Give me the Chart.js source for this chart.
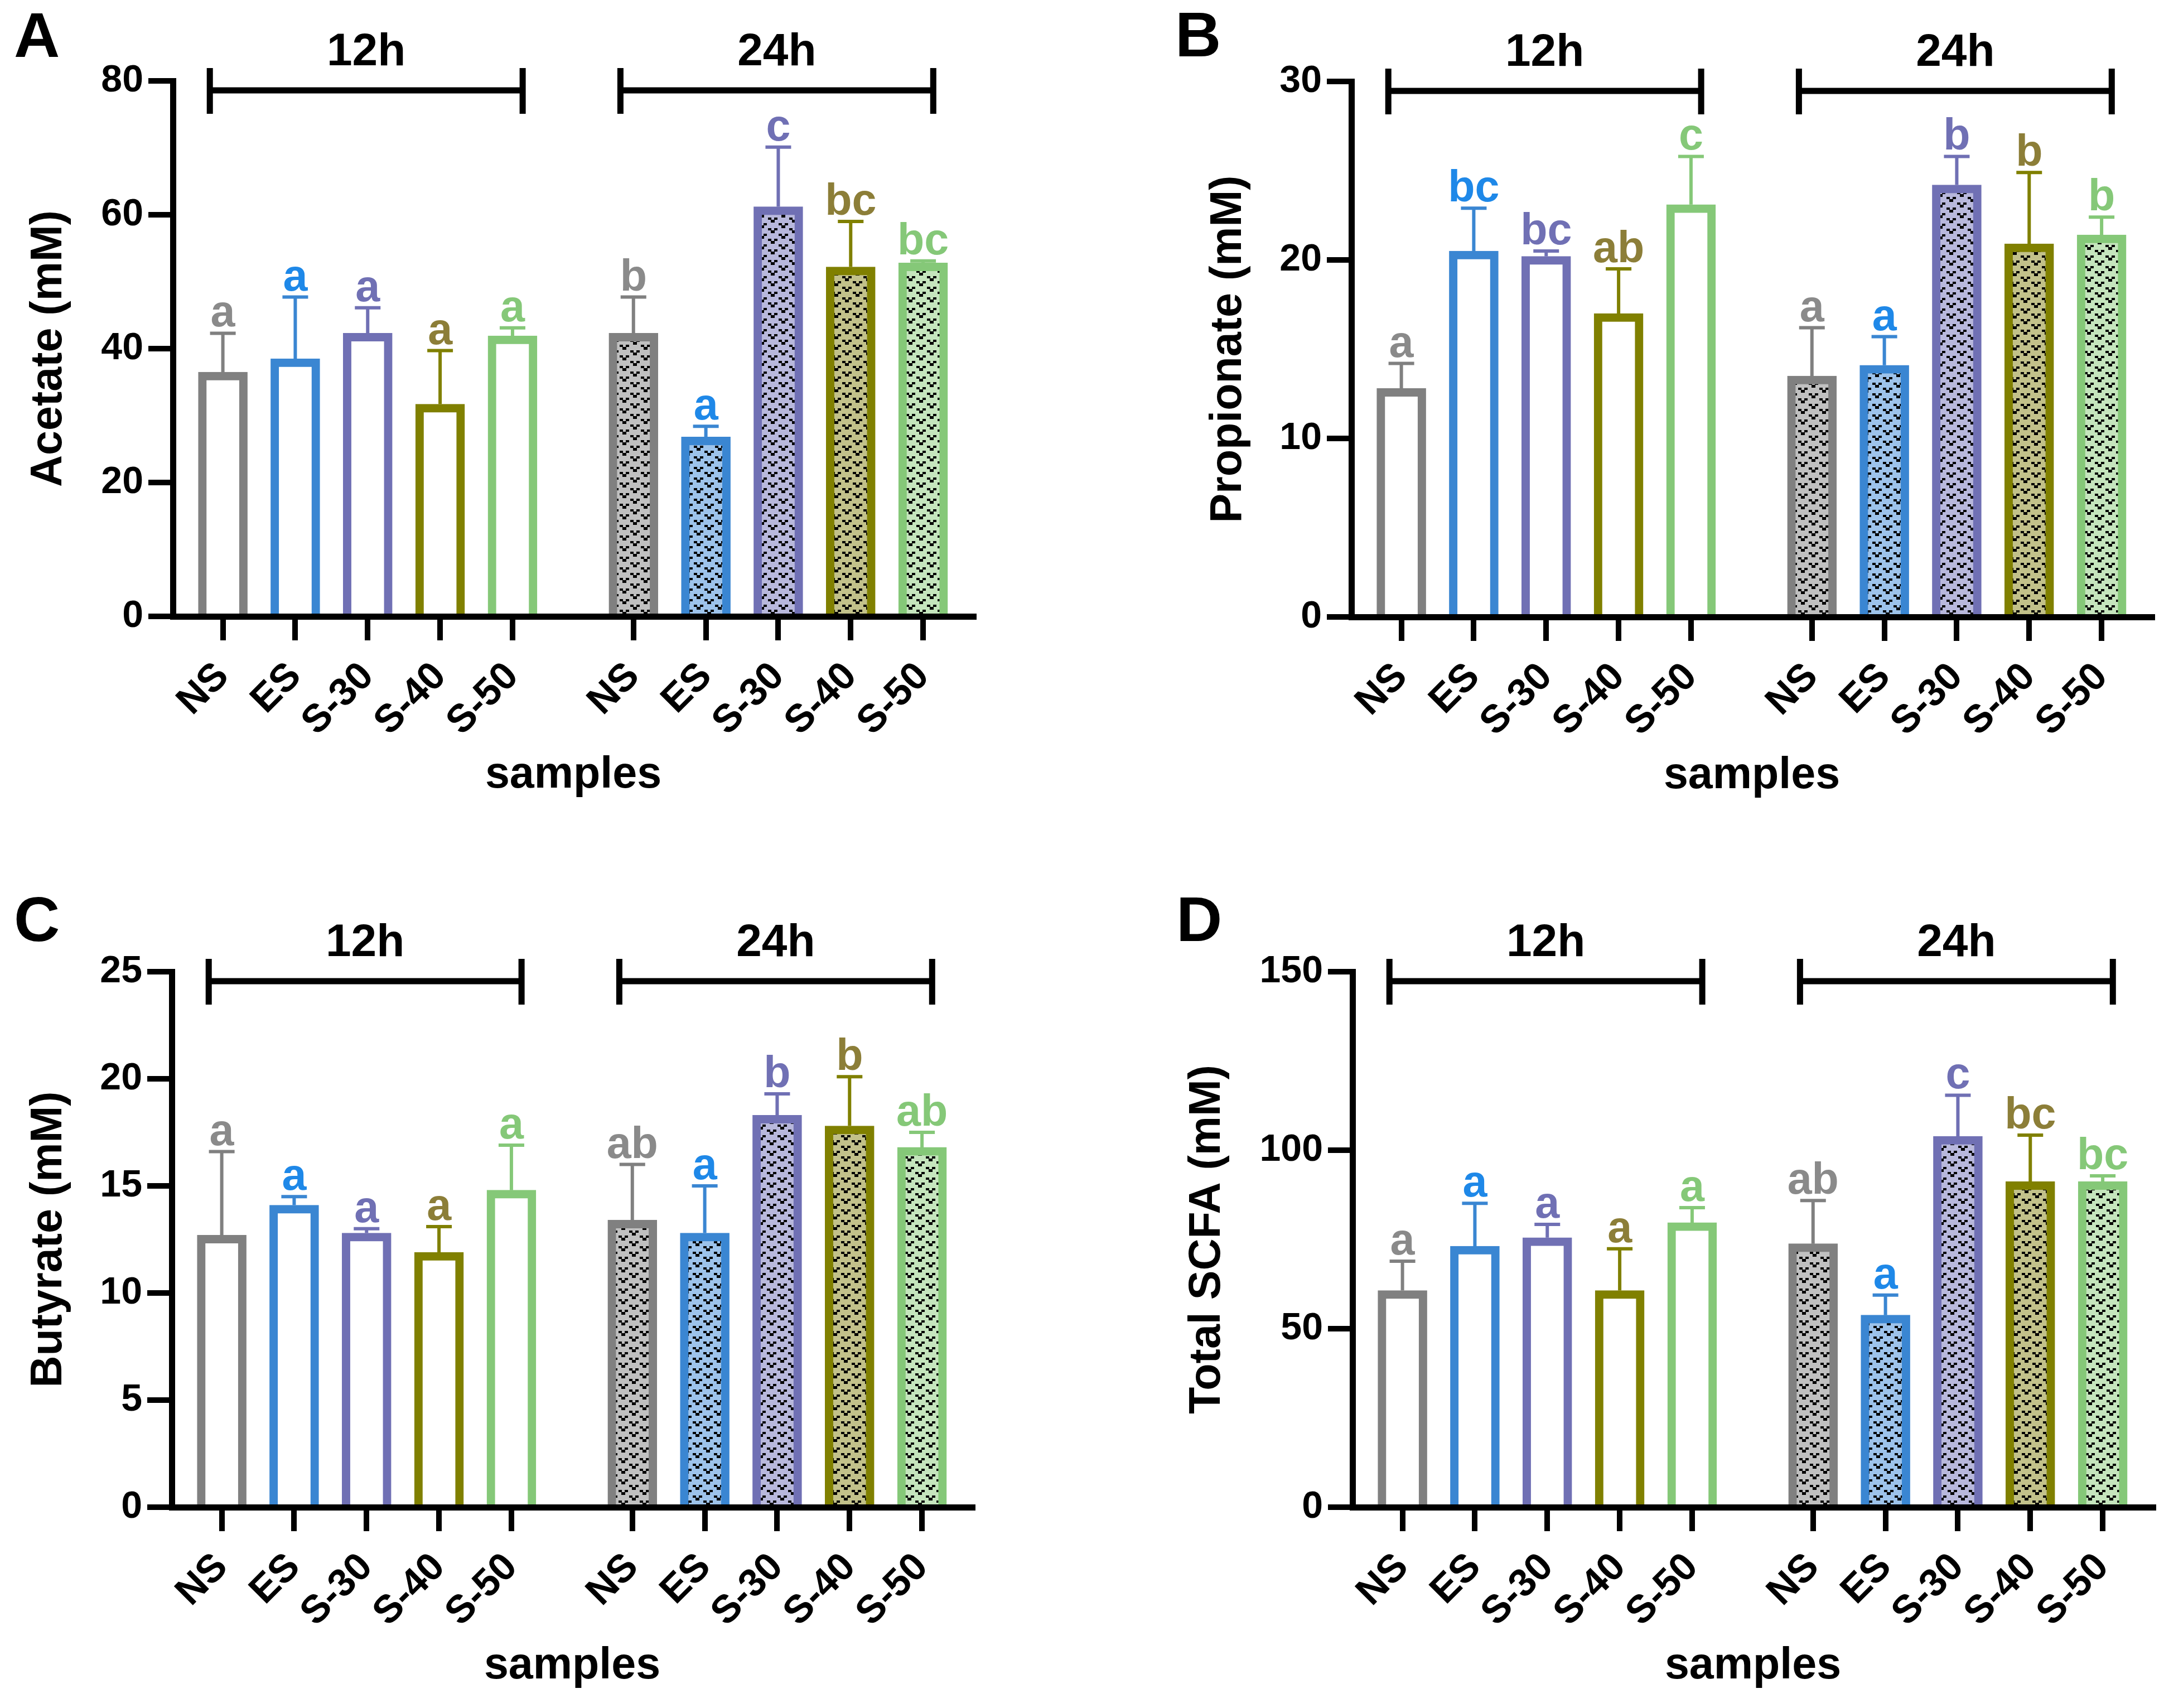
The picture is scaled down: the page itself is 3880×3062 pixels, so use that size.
<!DOCTYPE html>
<html>
<head>
<meta charset="utf-8">
<title>SCFA</title>
<script src="https://cdn.jsdelivr.net/npm/chart.js@4.4.1/dist/chart.umd.min.js"></script>
<style>
  html, body { margin: 0; padding: 0; background: #fff; width: 3880px; height: 3062px; overflow: hidden; position: relative; }
  canvas { position: absolute; }
</style>
</head>
<body>
<canvas id="chartA"></canvas>
<canvas id="chartB"></canvas>
<canvas id="chartC"></canvas>
<canvas id="chartD"></canvas>
<script>
// ===== Data =====
const samples = ["NS", "ES", "S-30", "S-40", "S-50"];
const timeGroups = ["12h", "24h"];

const acetateMean = [36.5, 38.5, 42.3, 31.7, 41.9, 42.3, 26.8, 61.2, 52.2, 52.8];
const acetateSd = [5.8, 9.2, 3.8, 8.0, 1.2, 5.4, 1.6, 8.9, 6.8, 0.3];
const acetateLetters = ["a", "a", "a", "a", "a", "b", "a", "c", "bc", "bc"];
const acetateTicks = [0, 20, 40, 60, 80];

const propionateMean = [12.8, 20.5, 20.2, 17.0, 23.1, 13.5, 14.1, 24.2, 20.9, 21.4];
const propionateSd = [1.4, 2.4, 0.3, 2.5, 2.7, 2.7, 1.6, 1.6, 4.0, 1.0];
const propionateLetters = ["a", "bc", "bc", "ab", "c", "a", "a", "b", "b", "b"];
const propionateTicks = [0, 10, 20, 30];

const butyrateMean = [12.7, 14.1, 12.8, 11.9, 14.8, 13.4, 12.8, 18.3, 17.8, 16.8];
const butyrateSd = [3.9, 0.4, 0.2, 1.2, 2.1, 2.6, 2.2, 1.0, 2.3, 0.7];
const butyrateLetters = ["a", "a", "a", "a", "a", "ab", "a", "b", "b", "ab"];
const butyrateTicks = [0, 5, 10, 15, 20, 25];

const totalMean = [60.7, 73.1, 75.5, 60.7, 79.7, 73.8, 53.8, 103.9, 91.2, 91.2];
const totalSd = [8.2, 12.0, 3.7, 11.7, 4.2, 12.1, 5.6, 11.5, 13.0, 1.6];
const totalLetters = ["a", "a", "a", "a", "a", "ab", "a", "c", "bc", "bc"];
const totalTicks = [0, 50, 100, 150];

// ===== Styles =====
const lineColors = ["#808080", "#3a86d2", "#7070b4", "#808000", "#85c878"];
const tintColors = ["#c0c0c0", "#9dc3eb", "#b8b8dc", "#c2c18a", "#c5e5bd"];
const letterColors = ["#8a8a8a", "#1e88e8", "#7070b4", "#8c7e38", "#85c878"];
const FONT = "'Liberation Sans', Arial, Helvetica, sans-serif";
const GROUP_GAP = 0.67;   // extra space between the 12h and 24h blocks (in bar slots)
const AXIS_W = 360;       // width reserved for y axis inside each canvas
const TOP_PAD = 145;

Chart.defaults.font.family = FONT;
Chart.defaults.font.weight = "bold";
Chart.defaults.color = "#000";

// positions of the ten bars on the linear x scale
const slots = [];
timeGroups.forEach((g, gi) => samples.forEach((s, si) => slots.push(gi * (samples.length + GROUP_GAP) + si)));

function vPattern(bg) {
  const t = document.createElement("canvas");
  t.width = 38; t.height = 19;
  const c = t.getContext("2d");
  c.fillStyle = bg;
  c.fillRect(0, 0, 38, 19);
  c.fillStyle = "#000";
  const v = (x, y) => {
    c.fillRect(x, y, 6, 4);
    c.fillRect(x + 11, y, 6, 4);
    c.fillRect(x + 5, y + 4, 7, 5);
  };
  v(2, 1);
  v(21, 10);
  return c.createPattern(t, "repeat");
}

// ===== Plugins =====
const errorBarPlugin = {
  id: "errorBars",
  afterDatasetsDraw(chart, args, opts) {
    const ctx = chart.ctx;
    const y = chart.scales.y;
    const meta = chart.getDatasetMeta(0);
    meta.data.forEach((bar, i) => {
      const col = i % samples.length;
      const top = chart.data.datasets[0].data[i].y;
      const capY = y.getPixelForValue(top + opts.sd[i]);
      ctx.save();
      ctx.strokeStyle = lineColors[col];
      ctx.lineWidth = 6;
      ctx.beginPath();
      ctx.moveTo(bar.x, bar.y);
      ctx.lineTo(bar.x, capY);
      ctx.moveTo(bar.x - 23, capY);
      ctx.lineTo(bar.x + 23, capY);
      ctx.stroke();
      ctx.fillStyle = letterColors[col];
      ctx.font = "bold 79px " + FONT;
      ctx.textAlign = "center";
      ctx.textBaseline = "alphabetic";
      ctx.fillText(opts.letters[i], bar.x, capY - 12);
      ctx.restore();
    });
  }
};

const bracketPlugin = {
  id: "brackets",
  afterDraw(chart, args, opts) {
    const ctx = chart.ctx;
    const x = chart.scales.x;
    const yLine = chart.chartArea.top + 17;
    ctx.save();
    ctx.strokeStyle = "#000";
    ctx.fillStyle = "#000";
    ctx.lineWidth = 11;
    timeGroups.forEach((g, gi) => {
      const first = slots[gi * samples.length];
      const last = slots[gi * samples.length + samples.length - 1];
      const x1 = x.getPixelForValue(first - 0.18);
      const x2 = x.getPixelForValue(last + 0.14);
      ctx.beginPath();
      ctx.moveTo(x1, yLine);
      ctx.lineTo(x2, yLine);
      ctx.moveTo(x1, yLine - 40);
      ctx.lineTo(x1, yLine + 42);
      ctx.moveTo(x2, yLine - 40);
      ctx.lineTo(x2, yLine + 42);
      ctx.stroke();
      ctx.font = "bold 82px " + FONT;
      ctx.textAlign = "center";
      ctx.textBaseline = "alphabetic";
      ctx.fillText(g, (x1 + x2) / 2, yLine - 45);
    });
    // panel letter
    ctx.font = "bold 114px " + FONT;
    ctx.textAlign = "left";
    ctx.fillText(opts.panel, opts.panelX, opts.panelY);
    ctx.restore();
  }
};

// ===== Chart builder =====
function makePanel(id, pos, cfg) {
  const canvas = document.getElementById(id);
  canvas.width = 1820;
  canvas.height = 1465;
  canvas.style.left = pos.left + "px";
  canvas.style.top = pos.top + "px";

  const bgColors = slots.map((s, i) =>
    i < samples.length ? "#ffffff" : vPattern(tintColors[i % samples.length]));
  const bdColors = slots.map((s, i) => lineColors[i % samples.length]);

  return new Chart(canvas.getContext("2d"), {
    type: "bar",
    data: {
      datasets: [{
        data: cfg.mean.map((v, i) => ({ x: slots[i], y: v })),
        backgroundColor: bgColors,
        borderColor: bdColors,
        borderWidth: 15,
        barThickness: 88
      }]
    },
    plugins: [errorBarPlugin, bracketPlugin],
    options: {
      responsive: false,
      animation: false,
      devicePixelRatio: 1,
      layout: { padding: { left: 0, top: TOP_PAD, right: 24, bottom: 0 } },
      plugins: {
        legend: { display: false },
        tooltip: { enabled: false },
        errorBars: { sd: cfg.sd, letters: cfg.letters },
        brackets: { panel: cfg.panel, panelX: cfg.panelX, panelY: cfg.panelY }
      },
      scales: {
        x: {
          type: "linear",
          offset: false,
          min: -0.69,
          max: slots[slots.length - 1] + 0.7,
          z: 1,
          afterBuildTicks: (axis) => { axis.ticks = slots.map(v => ({ value: v })); },
          afterFit: (axis) => { axis.height = 360; },
          ticks: {
            autoSkip: false,
            minRotation: 45,
            maxRotation: 45,
            padding: 24,
            font: { size: 70, weight: "bold" },
            color: "#000",
            callback: (v, i) => samples[i % samples.length]
          },
          grid: { display: true, offset: false, drawOnChartArea: false, drawTicks: true, tickLength: 43, lineWidth: 10, color: "#000" },
          border: { display: true, color: "#000", width: 11 },
          title: { display: true, text: "samples", font: { size: 79, weight: "bold" }, color: "#000", padding: { top: 0, bottom: 27 } }
        },
        y: {
          min: 0,
          max: cfg.ticks[cfg.ticks.length - 1],
          z: 1,
          afterBuildTicks: (axis) => { axis.ticks = cfg.ticks.map(v => ({ value: v })); },
          afterFit: (axis) => { axis.width = AXIS_W; },
          ticks: { padding: 9, font: { size: 68, weight: "bold" }, color: "#000" },
          grid: { display: true, drawOnChartArea: false, drawTicks: true, tickLength: 44, lineWidth: 10, color: "#000" },
          border: { display: true, color: "#000", width: 11 },
          title: { display: true, text: cfg.title, font: { size: 79, weight: "bold" }, color: "#000", padding: { top: cfg.titlePad, bottom: 0 } }
        }
      }
    }
  });
}

makePanel("chartA", { left: -50, top: 0 }, {
  mean: acetateMean, sd: acetateSd, letters: acetateLetters, ticks: acetateTicks,
  title: "Acetate (mM)", titlePad: 91, panel: "A", panelX: 75, panelY: 102
});
makePanel("chartB", { left: 2063, top: 1 }, {
  mean: propionateMean, sd: propionateSd, letters: propionateLetters, ticks: propionateTicks,
  title: "Propionate (mM)", titlePad: 93, panel: "B", panelX: 44, panelY: 100
});
makePanel("chartC", { left: -52, top: 1597 }, {
  mean: butyrateMean, sd: butyrateSd, letters: butyrateLetters, ticks: butyrateTicks,
  title: "Butyrate (mM)", titlePad: 93, panel: "C", panelX: 77, panelY: 90
});
makePanel("chartD", { left: 2065, top: 1597 }, {
  mean: totalMean, sd: totalSd, letters: totalLetters, ticks: totalTicks,
  title: "Total SCFA (mM)", titlePad: 53, panel: "D", panelX: 44, panelY: 90
});
</script>
</body>
</html>
